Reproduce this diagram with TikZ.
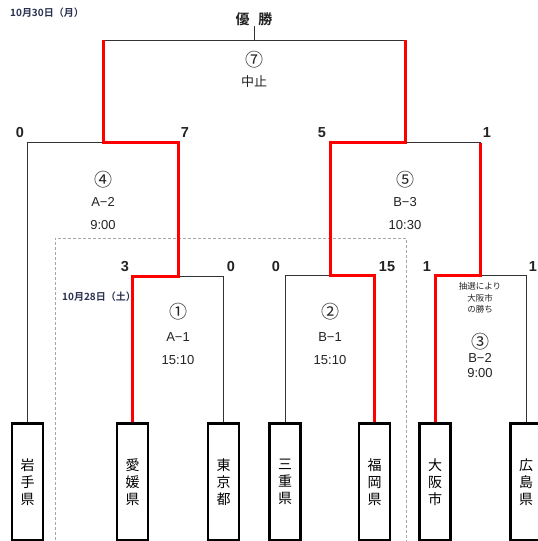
\documentclass[tikz,border=0pt]{standalone}
\usepackage{fontspec}
\setmainfont{Liberation Sans}
\newfontfamily\jp{Noto Sans CJK JP}
\newfontfamily\jpb{Noto Sans CJK JP Bold}
\definecolor{navy}{HTML}{2A3050}
\definecolor{ink}{HTML}{222222}
\begin{document}
\begin{tikzpicture}[x=1pt,y=-1pt,
  team/.style={draw=black, line width=1.6pt, minimum width=30pt, minimum height=116pt, inner sep=0pt, font=\jp\fontsize{14}{17}\selectfont, align=center},
  blk/.style={draw=black!80, line width=0.9pt},
  win/.style={draw=red, line width=3pt, line join=miter},
  score/.style={font=\bfseries\fontsize{14.5}{14.5}\selectfont, inner sep=0pt, text=ink},
  circ/.style={font=\jp\fontsize{18}{18}\selectfont, inner sep=0pt, text=ink},
  lbl/.style={font=\fontsize{13}{13}\selectfont, inner sep=0pt, text=ink},
  datelbl/.style={font=\jpb\fontsize{10}{10}\selectfont, inner sep=0pt, text=navy, anchor=west},
  frame/.style={draw=black!35, dashed, dash pattern=on 3pt off 2pt, line width=0.8pt}]
\useasboundingbox (0,0) rectangle (538,541);

% dashed frame (day 1)
\draw[frame] (55,545) -- (55,238) -- (406,238) -- (406,545);

% junction coordinates
\coordinate (m1) at (178.5,276);
\coordinate (m2) at (330,275.5);
\coordinate (m3) at (480.5,275.5);
\coordinate (m4) at (103,142.5);
\coordinate (m5) at (405,142.5);
\coordinate (m7) at (254,40);

% teams
\node[team] (t1) at (27.5,482) {岩\\手\\県};
\node[team] (t2) at (132.5,482) {愛\\媛\\県};
\node[team] (t3) at (223.5,482) {東\\京\\都};
\node[team] (t4) at (285,482) {三\\重\\県};
\node[team] (t5) at (374.5,482) {福\\岡\\県};
\node[team] (t6) at (435,482) {大\\阪\\市};
\node[team] (t7) at (526,482) {広\\島\\県};

\node[font=\jpb\fontsize{14}{14}\selectfont, inner sep=0pt, text=ink] (champ) at (254,19) {優\hspace{9pt}勝};

% black lines
\draw[blk] (t1.north) |- (m4);
\draw[blk] (t3.north) |- (m1);
\draw[blk] (t4.north) |- (m2);
\draw[blk] (t7.north) |- (m3);
\draw[blk] (m5) -- (m3 |- m5);
\draw[blk] (m4 |- m7) -- (m5 |- m7);
\draw[blk] (m7) -- (champ.south);

% winners (red)
\draw[win] (t2.north) |- (m1) |- (m4) -- (m4 |- m7);
\draw[win] (t5.north) |- (m2) |- (m5) -- (m5 |- m7);
\draw[win] (t6.north) |- (m3) -- (m3 |- m5);

% redraw box borders on top
\foreach \t in {t1,t2,t3,t4,t5,t6,t7} \draw[line width=1.6pt] (\t.south west) rectangle (\t.north east);

% dates
\node[datelbl] (d1) at (10,13) {10月30日（月）};
\node[datelbl] (d2) at (62,297) {10月28日（土）};

% scores
\node[score] (s1) at (20,133) {0};
\node[score] (s2) at (185,133) {7};
\node[score] (s3) at (322,133) {5};
\node[score] (s4) at (487,133) {1};
\node[score] (s5) at (125,267) {3};
\node[score] (s6) at (231,267) {0};
\node[score] (s7) at (276,267) {0};
\node[score] (s8) at (387,267) {15};
\node[score] (s9) at (427,267) {1};
\node[score] (s10) at (533,267) {1};

% match 7
\node[circ] (g7) at (254,60) {⑦};
\node[font=\jp\fontsize{13}{13}\selectfont, inner sep=0pt, text=ink] (g7b) at (254,82) {中止};
% match 4
\node[circ] (g4) at (103,180) {④};
\node[lbl] (g4b) at (103,202) {A−2};
\node[lbl] (g4c) at (103,225) {9:00};
% match 5
\node[circ] (g5) at (405,180) {⑤};
\node[lbl] (g5b) at (405,202) {B−3};
\node[lbl] (g5c) at (405,225) {10:30};
% match 1
\node[circ] (g1) at (178,312) {①};
\node[lbl] (g1b) at (178,337) {A−1};
\node[lbl] (g1c) at (178,360) {15:10};
% match 2
\node[circ] (g2) at (330,312) {②};
\node[lbl] (g2b) at (330,337) {B−1};
\node[lbl] (g2c) at (330,360) {15:10};
% match 3
\node[font=\jp\fontsize{8.5}{11.5}\selectfont, inner sep=0pt, align=center, text=ink] (g3n) at (480,298) {抽選により\\大阪市\\の勝ち};
\node[circ] (g3) at (480,342) {③};
\node[lbl] (g3b) at (480,358) {B−2};
\node[lbl] (g3c) at (480,373) {9:00};
\end{tikzpicture}
\end{document}
